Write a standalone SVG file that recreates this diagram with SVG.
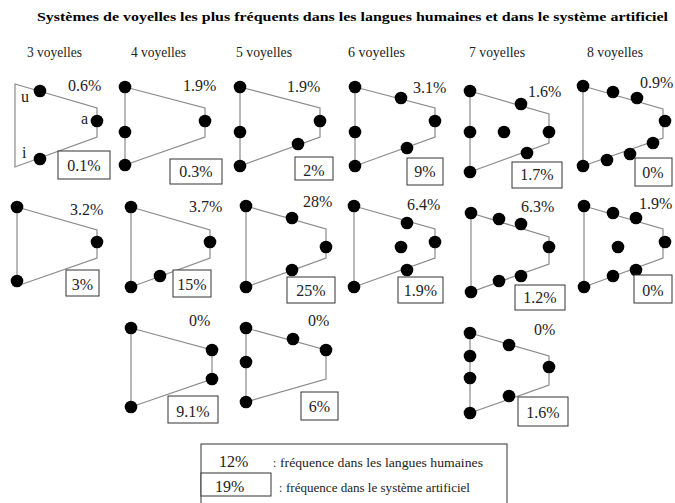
<svg xmlns="http://www.w3.org/2000/svg" width="675" height="503" viewBox="0 0 675 503">
<style>
.bg{fill:#fff}
.tr{fill:none;stroke:#8a8a8a;stroke-width:1.2}
.d{fill:#000}
.t{font-family:"Liberation Serif","Times New Roman",serif;fill:#222}
.title{font-size:13px;font-weight:bold;fill:#000}
.h{font-size:15px}
.p{font-size:16px}
.b{fill:#fff;stroke:#333;stroke-width:1}
.lg{font-size:11.5px}
.m{text-anchor:middle}
</style>
<rect class="bg" width="675" height="503"/>
<text class="t title" x="37" y="21" textLength="631" lengthAdjust="spacingAndGlyphs">Systèmes de voyelles les plus fréquents dans les langues humaines et dans le système artificiel</text>
<g id="headings" class="t h">
<text x="27" y="57" textLength="55" lengthAdjust="spacingAndGlyphs">3 voyelles</text>
<text x="131" y="57" textLength="55" lengthAdjust="spacingAndGlyphs">4 voyelles</text>
<text x="236" y="57" textLength="56" lengthAdjust="spacingAndGlyphs">5 voyelles</text>
<text x="348" y="57" textLength="57" lengthAdjust="spacingAndGlyphs">6 voyelles</text>
<text x="469" y="57" textLength="56" lengthAdjust="spacingAndGlyphs">7 voyelles</text>
<text x="587" y="57" textLength="56" lengthAdjust="spacingAndGlyphs">8 voyelles</text>
</g>

<g id="d1">
<path class="tr" d="M15,84 L97,108 L97,137 L15,167 Z"/>
<circle class="d" cx="40" cy="91" r="6.3"/><circle class="d" cx="97" cy="121" r="6.3"/><circle class="d" cx="40" cy="159" r="6.3"/>
<text class="t p" x="21" y="102">u</text><text class="t p" x="81" y="124">a</text><text class="t p" x="22" y="158">i</text>
<text class="t p" x="68" y="91">0.6%</text>
<rect class="b" x="58" y="151" width="52" height="28"/><text class="t p m" x="84" y="171">0.1%</text>
</g>
<g id="d2">
<path class="tr" d="M125,87 L205,108 L205,137 L125,165 Z"/>
<circle class="d" cx="125" cy="87" r="6.3"/><circle class="d" cx="125" cy="132" r="6.3"/><circle class="d" cx="125" cy="165" r="6.3"/><circle class="d" cx="205" cy="121" r="6.3"/>
<text class="t p" x="183" y="91">1.9%</text>
<rect class="b" x="170" y="159" width="52" height="25"/><text class="t p m" x="196" y="177">0.3%</text>
</g>
<g id="d3">
<path class="tr" d="M240,87 L320,108 L320,137 L240,166 Z"/>
<circle class="d" cx="240" cy="87" r="6.3"/><circle class="d" cx="240" cy="132" r="6.3"/><circle class="d" cx="240" cy="166" r="6.3"/><circle class="d" cx="320" cy="121" r="6.3"/><circle class="d" cx="298" cy="144" r="6.3"/>
<text class="t p" x="287" y="92">1.9%</text>
<rect class="b" x="295" y="157" width="38" height="23"/><text class="t p m" x="314" y="176">2%</text>
</g>
<g id="d4">
<path class="tr" d="M355,87 L435,108 L435,137 L355,166 Z"/>
<circle class="d" cx="355" cy="87" r="6.3"/><circle class="d" cx="355" cy="132" r="6.3"/><circle class="d" cx="355" cy="166" r="6.3"/><circle class="d" cx="401" cy="98" r="6.3"/><circle class="d" cx="435" cy="121" r="6.3"/><circle class="d" cx="407" cy="148" r="6.3"/>
<text class="t p" x="413" y="93">3.1%</text>
<rect class="b" x="407" y="158" width="36" height="27"/><text class="t p m" x="425" y="177">9%</text>
</g>
<g id="d5">
<path class="tr" d="M470,91 L549,114 L549,143 L470,172 Z"/>
<circle class="d" cx="470" cy="91" r="6.3"/><circle class="d" cx="470" cy="132" r="6.3"/><circle class="d" cx="470" cy="172" r="6.3"/><circle class="d" cx="521" cy="104" r="6.3"/><circle class="d" cx="504" cy="132" r="6.3"/><circle class="d" cx="549" cy="132" r="6.3"/><circle class="d" cx="527" cy="153" r="6.3"/>
<text class="t p" x="528" y="97">1.6%</text>
<rect class="b" x="512" y="162" width="50" height="26"/><text class="t p m" x="537" y="180">1.7%</text>
</g>
<g id="d6">
<path class="tr" d="M583,86 L663,109 L663,138 L583,166 Z"/>
<circle class="d" cx="583" cy="86" r="6.3"/><circle class="d" cx="613" cy="92" r="6.3"/><circle class="d" cx="637" cy="98" r="6.3"/><circle class="d" cx="665" cy="121" r="6.3"/><circle class="d" cx="653" cy="143" r="6.3"/><circle class="d" cx="630" cy="154" r="6.3"/><circle class="d" cx="607" cy="160" r="6.3"/><circle class="d" cx="583" cy="166" r="6.3"/>
<text class="t p" x="640" y="88">0.9%</text>
<rect class="b" x="635" y="158" width="37" height="28"/><text class="t p m" x="653" y="178">0%</text>
</g>

<g id="d7">
<path class="tr" d="M17,207 L97,230 L97,258 L17,286 Z"/>
<circle class="d" cx="17" cy="207" r="6.3"/><circle class="d" cx="97" cy="242" r="6.3"/><circle class="d" cx="17" cy="281" r="6.3"/>
<text class="t p" x="70" y="215">3.2%</text>
<rect class="b" x="66" y="270" width="33" height="26"/><text class="t p m" x="82.5" y="290">3%</text>
</g>
<g id="d8">
<path class="tr" d="M131,207 L210,230 L210,258 L131,287 Z"/>
<circle class="d" cx="131" cy="207" r="6.3"/><circle class="d" cx="210" cy="242" r="6.3"/><circle class="d" cx="131" cy="287" r="6.3"/><circle class="d" cx="160" cy="276" r="6.3"/>
<text class="t p" x="189" y="212">3.7%</text>
<rect class="b" x="173" y="270" width="38" height="27"/><text class="t p m" x="192" y="290">15%</text>
</g>
<g id="d9">
<path class="tr" d="M246,206 L326,229 L326,258 L246,287 Z"/>
<circle class="d" cx="246" cy="206" r="6.3"/><circle class="d" cx="292" cy="218" r="6.3"/><circle class="d" cx="326" cy="247" r="6.3"/><circle class="d" cx="292" cy="270" r="6.3"/><circle class="d" cx="246" cy="287" r="6.3"/>
<text class="t p" x="303" y="207">28%</text>
<rect class="b" x="287" y="277" width="48" height="26"/><text class="t p m" x="311" y="296">25%</text>
</g>
<g id="d10">
<path class="tr" d="M354,206 L435,229 L435,258 L354,287 Z"/>
<circle class="d" cx="354" cy="206" r="6.3"/><circle class="d" cx="407" cy="223" r="6.3"/><circle class="d" cx="435" cy="242" r="6.3"/><circle class="d" cx="401" cy="247" r="6.3"/><circle class="d" cx="407" cy="270" r="6.3"/><circle class="d" cx="354" cy="287" r="6.3"/>
<text class="t p" x="407" y="210">6.4%</text>
<rect class="b" x="398" y="277" width="45" height="26"/><text class="t p m" x="420.5" y="296">1.9%</text>
</g>
<g id="d11">
<path class="tr" d="M471,213 L549,237 L549,264 L471,292 Z"/>
<circle class="d" cx="471" cy="213" r="6.3"/><circle class="d" cx="499" cy="219" r="6.3"/><circle class="d" cx="521" cy="224" r="6.3"/><circle class="d" cx="549" cy="247" r="6.3"/><circle class="d" cx="521" cy="276" r="6.3"/><circle class="d" cx="499" cy="281" r="6.3"/><circle class="d" cx="471" cy="292" r="6.3"/>
<text class="t p" x="521" y="212">6.3%</text>
<rect class="b" x="515" y="285" width="50" height="25"/><text class="t p m" x="540" y="303">1.2%</text>
</g>
<g id="d12">
<path class="tr" d="M584,206 L663,229 L663,258 L584,287 Z"/>
<circle class="d" cx="584" cy="206" r="6.3"/><circle class="d" cx="613" cy="213" r="6.3"/><circle class="d" cx="636" cy="218" r="6.3"/><circle class="d" cx="665" cy="242" r="6.3"/><circle class="d" cx="618" cy="247" r="6.3"/><circle class="d" cx="636" cy="270" r="6.3"/><circle class="d" cx="613" cy="276" r="6.3"/><circle class="d" cx="584" cy="287" r="6.3"/>
<text class="t p" x="639" y="209">1.9%</text>
<rect class="b" x="634" y="275" width="38" height="28"/><text class="t p m" x="653" y="296">0%</text>
</g>

<g id="d13">
<path class="tr" d="M131,328 L212,350 L212,379 L131,407 Z"/>
<circle class="d" cx="131" cy="328" r="6.3"/><circle class="d" cx="212" cy="350" r="6.3"/><circle class="d" cx="212" cy="379" r="6.3"/><circle class="d" cx="131" cy="407" r="6.3"/>
<text class="t p" x="189" y="326">0%</text>
<rect class="b" x="168" y="396" width="50" height="27"/><text class="t p m" x="193" y="417">9.1%</text>
</g>
<g id="d14">
<path class="tr" d="M246,328 L326,350 L326,379 L246,402 Z"/>
<circle class="d" cx="246" cy="328" r="6.3"/><circle class="d" cx="293" cy="339" r="6.3"/><circle class="d" cx="326" cy="350" r="6.3"/><circle class="d" cx="246" cy="362" r="6.3"/><circle class="d" cx="246" cy="402" r="6.3"/>
<text class="t p" x="308" y="326">0%</text>
<rect class="b" x="301" y="392" width="37" height="28"/><text class="t p m" x="319.5" y="412">6%</text>
</g>
<g id="d15">
<path class="tr" d="M470,333 L549,356 L549,385 L470,413 Z"/>
<circle class="d" cx="470" cy="333" r="6.3"/><circle class="d" cx="509" cy="345" r="6.3"/><circle class="d" cx="470" cy="356" r="6.3"/><circle class="d" cx="549" cy="367" r="6.3"/><circle class="d" cx="470" cy="378" r="6.3"/><circle class="d" cx="509" cy="396" r="6.3"/><circle class="d" cx="470" cy="413" r="6.3"/>
<text class="t p" x="534" y="335">0%</text>
<rect class="b" x="518" y="397" width="50" height="29"/><text class="t p m" x="543" y="418">1.6%</text>
</g>

<g id="legend">
<rect class="b" x="201" y="444" width="306" height="62"/>
<text class="t p" x="219" y="467">12%</text>
<text class="t lg" x="273" y="467">:</text>
<text class="t lg" x="280" y="467" textLength="203" lengthAdjust="spacingAndGlyphs">fréquence dans les langues humaines</text>
<rect class="b" x="201" y="473" width="70" height="23"/>
<text class="t p" x="215" y="492">19%</text>
<text class="t lg" x="279" y="492">:</text>
<text class="t lg" x="286" y="492" textLength="184" lengthAdjust="spacingAndGlyphs">fréquence dans le système artificiel</text>
</g>
</svg>
